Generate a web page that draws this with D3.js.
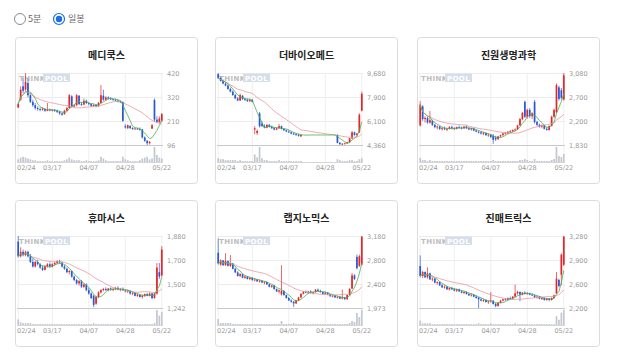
<!DOCTYPE html>
<html><head><meta charset="utf-8">
<script src="https://cdn.jsdelivr.net/npm/d3@7"></script>
<style>body{margin:0;background:#fff}svg{display:block}</style>
</head><body>
<svg id="c" width="618" height="355"></svg>
<script>
const dates = ["02/24","02/25","02/26","02/27","02/28","03/04","03/05","03/06","03/07","03/10",
"03/11","03/12","03/13","03/14","03/17","03/18","03/19","03/20","03/21","03/24",
"03/25","03/26","03/27","03/28","03/31","04/01","04/02","04/03","04/04","04/07",
"04/08","04/09","04/10","04/11","04/14","04/15","04/16","04/17","04/18","04/21",
"04/22","04/23","04/24","04/25","04/28","04/29","04/30","05/02","05/07","05/08",
"05/09","05/12","05/13","05/14","05/15","05/16","05/19","05/20","05/21","05/22"];
const xTicks = ["02/24","03/17","04/07","04/28","05/22"];
const titles = ["메디쿡스","더바이오메드","진원생명과학","휴마시스","랩지노믹스","진매트릭스"];
const yTop = [420,9680,3080,1880,3180,3280];
const yBottom = [96,4360,1830,1242,1973,2200];
const yLabels = [["420","320","210","96"],["9,680","7,900","6,100","4,360"],["3,080","2,700","2,200","1,830"],
["1,880","1,700","1,500","1,242"],["3,180","2,800","2,400","1,973"],["3,280","2,900","2,600","2,200"]];

// 메디쿡스
const open1=[265,300,360,345,375,320,290,275,262,258,255,258,250,255,252,254,250,245,238,235,250,262,315,270,275,318,280,278,295,285,280,272,276,270,285,318,300,310,305,302,300,296,292,290,180,172,182,172,168,170,168,166,130,115,104,170,298,210,200,205];
const close1=[280,345,340,380,320,290,275,262,258,255,260,250,256,252,254,250,245,238,232,250,262,320,270,275,320,280,278,295,285,280,272,276,270,285,320,300,310,305,302,300,296,292,290,205,175,185,172,168,170,168,166,130,115,104,110,185,210,200,215,235];
const high1=[285,360,400,420,395,330,300,285,270,265,266,262,285,260,258,258,255,250,242,255,268,325,320,280,325,320,290,305,300,290,284,280,280,290,366,345,315,315,310,306,304,300,296,292,190,188,185,176,174,172,175,168,135,118,114,190,305,225,225,240];
const low1=[262,295,330,340,310,285,268,255,250,248,250,245,248,248,247,245,240,232,228,232,248,260,265,265,270,275,272,275,280,275,268,268,266,268,282,295,296,300,298,295,292,288,285,200,170,168,168,164,165,164,160,125,110,96,98,168,200,195,195,198];
const vol1=[3,5,6,5,4,3,2,2,1,1,1,1,2,1,1,1,1,1,1,2,3,5,3,2,2,2,1,1,2,1,1,1,1,2,6,4,2,1,1,1,1,1,1,6,3,2,1,1,1,1,2,4,5,6,3,4,17,8,5,4];

// 더바이오메드
const open2=[9600,9300,9100,8900,8750,8500,8300,8050,7800,7650,8000,7750,7700,7600,7700,5500,5250,6700,5950,5750,5650,5850,5700,5600,5500,5600,5750,5550,5450,5350,5300,5200,5150,5100,5000,5100,5100,5100,5100,5100,5100,5100,5100,5100,5100,5100,5100,5100,5100,5100,4520,4420,4450,4480,4560,4850,5300,5100,5300,6900];
const close2=[9300,9100,8900,8750,8500,8300,8050,7800,7650,8050,7750,7700,7600,7700,7550,5600,5400,5750,5750,5650,5850,5700,5600,5500,5600,5750,5550,5450,5350,5300,5200,5150,5100,5050,5100,5100,5100,5100,5100,5100,5100,5100,5100,5100,5100,5100,5100,5100,5100,4520,4420,4450,4480,4560,4850,5300,5100,5200,6600,8150];
const high2=[9680,9400,9200,9000,8850,8600,8400,8150,7900,8150,8050,7850,7800,7750,7750,5750,5500,6800,6100,5900,5900,5900,5800,5700,5650,5900,5800,5600,5500,5450,5350,5300,5250,5200,5150,5100,5100,5100,5100,5100,5100,5100,5100,5100,5100,5100,5100,5100,5100,5150,4580,4500,4520,4600,4900,5400,5350,5250,6700,8300];
const low2=[9250,9050,8850,8700,8450,8250,8000,7750,7600,7600,7700,7600,7550,7550,7500,5150,5100,5650,5700,5600,5600,5650,5550,5450,5450,5550,5500,5400,5300,5250,5150,5100,5050,4980,4950,5100,5100,5100,5100,5100,5100,5100,5100,5100,5100,5100,5100,5100,5100,4480,4380,4360,4400,4430,4520,4800,5050,5000,5250,6850];
const vol2=[4,3,3,2,2,2,2,2,1,2,1,1,1,1,1,8,5,16,4,2,2,1,1,1,1,2,1,1,1,1,1,1,1,1,1,0,0,0,0,0,0,0,0,0,0,0,0,0,0,3,2,1,1,1,2,2,1,1,3,4];

// 진원생명과학
const open3=[2170,2500,2280,2300,2220,2250,2180,2140,2150,2110,2120,2100,2110,2140,2120,2110,2140,2130,2120,2150,2120,2100,2120,2080,2060,2050,2030,2040,2000,2010,1990,1960,1930,1980,2000,2030,2040,2060,2070,2090,2100,2170,2280,2580,2320,2440,2330,2580,2230,2180,2150,2170,2110,2090,2160,2320,2400,2830,2780,2620];
const close3=[2530,2280,2300,2220,2260,2180,2140,2150,2110,2120,2100,2110,2140,2120,2110,2140,2130,2120,2150,2120,2100,2120,2080,2060,2050,2030,2040,2000,2010,1970,1920,1930,1980,2000,2030,2040,2060,2070,2090,2100,2170,2280,2390,2320,2440,2330,2380,2230,2180,2150,2170,2110,2090,2160,2320,2440,2870,2630,2650,3040];
const high3=[2590,2520,2330,2320,2420,2270,2200,2170,2160,2140,2150,2130,2160,2170,2140,2150,2170,2150,2160,2170,2140,2130,2130,2100,2080,2070,2060,2050,2030,2020,2020,1990,1990,2010,2040,2060,2070,2090,2100,2120,2180,2300,2400,2600,2460,2470,2400,2610,2250,2200,2190,2180,2140,2170,2340,2460,2900,2860,2820,3080];
const low3=[2150,2250,2220,2200,2200,2160,2120,2100,2090,2080,2090,2070,2100,2100,2090,2100,2110,2100,2110,2110,2090,2080,2070,2050,2030,2010,2000,1990,1970,1950,1850,1900,1920,1960,1990,2010,2020,2040,2050,2070,2090,2160,2260,2300,2290,2300,2280,2200,2160,2130,2120,2100,2080,2080,2150,2300,2380,2600,2620,2600];
const vol3=[4,2,2,1,2,1,1,1,1,1,1,1,1,1,1,1,1,1,1,1,1,1,1,1,1,1,1,1,1,1,2,1,1,1,1,1,1,1,1,1,1,2,2,3,2,1,1,3,1,1,1,1,1,1,2,3,15,6,5,8];

// 휴마시스
const open4=[1830,1700,1740,1710,1740,1700,1650,1610,1650,1630,1600,1580,1610,1630,1610,1630,1640,1655,1645,1610,1590,1560,1570,1520,1490,1460,1480,1430,1450,1400,1370,1350,1280,1340,1380,1400,1410,1400,1415,1405,1410,1420,1405,1410,1400,1390,1395,1370,1375,1350,1360,1340,1350,1365,1350,1370,1330,1370,1560,1530];
const close4=[1700,1740,1710,1740,1700,1650,1610,1650,1630,1600,1580,1610,1630,1610,1630,1640,1655,1645,1610,1590,1560,1570,1520,1490,1460,1480,1430,1450,1400,1370,1330,1270,1340,1380,1400,1410,1400,1415,1405,1410,1420,1405,1410,1400,1390,1395,1370,1375,1350,1360,1340,1350,1365,1350,1370,1330,1370,1600,1520,1760];
const high4=[1880,1780,1760,1750,1750,1720,1680,1660,1670,1640,1620,1620,1640,1645,1640,1650,1665,1670,1655,1625,1600,1580,1575,1530,1500,1490,1490,1460,1460,1420,1380,1360,1350,1390,1410,1420,1425,1420,1425,1420,1430,1435,1420,1425,1410,1405,1400,1385,1380,1370,1365,1360,1370,1375,1380,1375,1380,1640,1640,1790];
const low4=[1690,1690,1700,1700,1690,1640,1600,1600,1620,1590,1570,1575,1600,1600,1600,1615,1630,1635,1600,1580,1550,1540,1510,1480,1450,1440,1420,1420,1390,1360,1320,1250,1270,1330,1370,1390,1395,1390,1395,1390,1400,1400,1390,1395,1380,1375,1360,1355,1345,1340,1335,1325,1340,1345,1345,1320,1325,1360,1500,1520];
const vol4=[6,3,2,2,2,2,1,1,1,1,1,1,1,1,1,1,1,1,1,1,1,1,1,1,1,1,1,1,1,1,1,2,1,1,1,1,1,1,1,1,1,1,1,1,1,1,1,1,1,1,1,1,1,1,1,1,2,16,10,14];

// 랩지노믹스
const open5=[2900,2700,2770,2690,2760,2680,2720,2630,2570,2510,2540,2480,2500,2460,2480,2440,2450,2420,2430,2400,2410,2370,2330,2350,2290,2250,2200,2260,2190,2140,2100,2080,2050,2100,2150,2210,2240,2230,2250,2230,2240,2280,2260,2240,2210,2230,2200,2170,2180,2150,2160,2130,2150,2120,2190,2300,2520,2830,2680,2700];
const close5=[2720,2770,2690,2760,2680,2720,2630,2570,2510,2540,2480,2500,2460,2480,2440,2450,2420,2430,2400,2410,2370,2330,2350,2290,2250,2270,2260,2190,2140,2100,2080,2050,2100,2150,2210,2240,2230,2250,2230,2240,2280,2260,2240,2210,2230,2200,2170,2180,2150,2160,2130,2150,2120,2190,2290,2520,2460,2640,2840,3170];
const high5=[3140,2790,2780,2890,2770,2860,2730,2650,2590,2560,2550,2520,2510,2490,2490,2470,2460,2450,2440,2420,2420,2380,2360,2360,2300,2280,2690,2270,2200,2160,2120,2090,2110,2160,2220,2260,2270,2260,2270,2250,2290,2300,2280,2250,2240,2240,2210,2190,2190,2170,2170,2280,2160,2200,2310,2560,2540,2870,2870,3180];
const low5=[2700,2680,2680,2680,2670,2660,2620,2560,2500,2490,2470,2460,2450,2440,2430,2420,2410,2400,2390,2370,2360,2320,2310,2280,2240,2220,2180,2180,2130,2090,2060,1990,2040,2090,2140,2200,2220,2210,2220,2200,2230,2250,2230,2200,2200,2190,2160,2150,2140,2130,2120,2120,2110,2110,2180,2290,2440,2620,2660,2690];
const vol5=[6,2,2,2,2,2,1,1,1,1,1,1,1,1,1,1,1,1,1,1,1,1,1,1,1,1,4,1,1,1,1,2,1,1,1,1,1,1,1,1,1,1,1,1,1,1,1,1,1,1,1,1,1,1,2,4,3,12,8,15];

// 진매트릭스
const open6=[2830,2680,2740,2660,2720,2630,2640,2580,2590,2540,2510,2520,2480,2500,2480,2460,2480,2450,2430,2440,2410,2390,2400,2370,2360,2330,2310,2320,2290,2300,2310,2260,2230,2280,2310,2330,2320,2350,2340,2370,2420,2440,2400,2430,2410,2420,2400,2390,2360,2370,2340,2350,2320,2340,2320,2350,2420,2620,2700,2850];
const close6=[2680,2740,2660,2720,2630,2640,2580,2590,2540,2510,2520,2480,2500,2480,2460,2480,2450,2430,2440,2410,2390,2400,2370,2350,2330,2310,2320,2290,2300,2310,2260,2230,2280,2310,2330,2320,2350,2340,2370,2420,2440,2400,2430,2410,2420,2400,2390,2360,2370,2340,2350,2320,2340,2320,2350,2390,2640,2530,3000,3270];
const high6=[2990,2760,2750,2810,2730,2660,2650,2600,2600,2560,2540,2530,2510,2520,2500,2490,2490,2470,2460,2450,2430,2420,2410,2390,2360,2350,2340,2330,2310,2440,2320,2280,2290,2320,2340,2350,2360,2370,2380,2550,2460,2450,2440,2450,2440,2430,2420,2400,2380,2380,2360,2360,2350,2350,2360,2400,2740,2640,3020,3280];
const low6=[2660,2650,2650,2640,2620,2600,2570,2550,2530,2500,2490,2470,2460,2470,2450,2440,2440,2420,2410,2400,2380,2370,2360,2340,2200,2300,2290,2280,2260,2280,2250,2210,2220,2270,2300,2310,2310,2330,2330,2360,2400,2300,2390,2400,2400,2390,2380,2350,2340,2330,2320,2310,2310,2300,2310,2340,2410,2510,2540,2830];
const vol6=[5,2,2,2,2,1,1,1,1,1,1,1,1,1,1,1,1,1,1,1,1,1,1,1,2,1,1,1,1,2,1,1,1,1,1,1,1,1,1,2,1,1,1,1,1,1,1,1,1,1,1,1,1,1,1,1,10,6,14,17];

const panels = [
  {o:open1,c:close1,h:high1,l:low1,v:vol1},
  {o:open2,c:close2,h:high2,l:low2,v:vol2},
  {o:open3,c:close3,h:high3,l:low3,v:vol3},
  {o:open4,c:close4,h:high4,l:low4,v:vol4},
  {o:open5,c:close5,h:high5,l:low5,v:vol5},
  {o:open6,c:close6,h:high6,l:low6,v:vol6}
].map((p,i)=>Object.assign(p,{title:titles[i],top:yTop[i],bottom:yBottom[i],labels:yLabels[i]}));

const UP="#e3262c", DOWN="#2a58d2", MA5C="#4cae4f", MA20C="#e9959e";
const svg = d3.select("#c");

// radio buttons
svg.append("circle").attr("cx",20).attr("cy",19).attr("r",5.5).attr("fill","#fff").attr("stroke","#8c8c8c").attr("stroke-width",1);
svg.append("text").attr("x",28).attr("y",22.3).text("5분").attr("fill","#666").style("font","9px 'Noto Sans CJK KR', sans-serif");
svg.append("circle").attr("cx",59).attr("cy",19).attr("r",5.5).attr("fill","#fff").attr("stroke","#1a6fe3").attr("stroke-width",1.2);
svg.append("circle").attr("cx",59).attr("cy",19).attr("r",3.2).attr("fill","#1a6fe3");
svg.append("text").attr("x",68).attr("y",22.3).text("일봉").attr("fill","#666").style("font","9px 'Noto Sans CJK KR', sans-serif");

const PW=182, PH=146, PL=2, PR=148, PT=36, PB=108, VT=110, VB=125;
const cols=[15,215,417], rows=[37,200];

function ma(arr,n){ return arr.map((_,i)=>d3.mean(arr.slice(Math.max(0,i-n+1),i+1))); }

panels.forEach((p,i)=>{
  const g = svg.append("g").attr("transform",`translate(${cols[i%3]},${rows[Math.floor(i/3)]})`);
  g.append("rect").attr("x",0.5).attr("y",0.5).attr("width",PW).attr("height",PH).attr("rx",3)
    .attr("fill","#fff").attr("stroke","#dcdcdc");
  g.append("text").attr("x",PW/2+0.5).attr("y",21.8).attr("text-anchor","middle").text(p.title)
    .attr("fill","#222").style("font","bold 10px 'Noto Sans CJK KR', sans-serif");

  const x = d3.scaleBand().domain(dates).range([PL,PR]).paddingInner(0.3).paddingOuter(0.15);
  const y = d3.scaleLinear().domain([p.bottom,p.top]).range([PB,PT]);
  const yv = d3.scaleLinear().domain([0,d3.max(p.v)]).range([VB,VT]);
  const cx = d => x(d)+x.bandwidth()/2;
  const gridVals = d3.range(4).map(k=>p.top-k*(p.top-p.bottom)/3);

  // x grid + labels
  const xa = g.append("g").attr("transform",`translate(0,${VB})`)
    .call(d3.axisBottom(x).tickValues(xTicks).tickSize(-(VB-PT)).tickPadding(3));
  xa.select(".domain").remove();
  xa.selectAll("line").attr("stroke","#efefef");
  xa.selectAll("text").attr("fill","#9a9a9a").style("font","6.5px 'DejaVu Sans', sans-serif");
  xa.selectAll("text").filter((d,k)=>k===0).attr("text-anchor","start").attr("x",PL-cx(dates[0]));

  // y grid + labels
  const ya = g.append("g").attr("transform",`translate(${PR},0)`)
    .call(d3.axisRight(y).tickValues(gridVals).tickFormat((d,k)=>p.labels[k]).tickSize(-(PR-PL)).tickPadding(4));
  ya.select(".domain").remove();
  ya.selectAll("line").attr("stroke",(d,k)=>k===3?"#c9c9c9":"#ececec");
  ya.selectAll("text").attr("fill","#9a9a9a").style("font","6.5px 'DejaVu Sans', sans-serif");

  // volume base line
  g.append("line").attr("x1",PL).attr("x2",PR).attr("y1",VB+0.5).attr("y2",VB+0.5).attr("stroke","#d6d6d6");

  // watermark
  const wm = g.append("g").attr("transform","translate(4,37)");
  wm.append("text").attr("x",0).attr("y",6.8).text("THINK").attr("fill","#bdbdbd")
    .style("font","bold 7px 'DejaVu Sans', sans-serif").style("letter-spacing","0.4px");
  wm.append("rect").attr("x",24).attr("y",-0.5).attr("width",27).attr("height",8.5).attr("fill","#d6ddeb");
  wm.append("text").attr("x",37.5).attr("y",6.8).attr("text-anchor","middle").text("POOL").attr("fill","#fff")
    .style("font","bold 7px 'DejaVu Sans', sans-serif").style("letter-spacing","0.4px");

  // volume bars
  g.append("g").selectAll("rect").data(dates).join("rect")
    .attr("x",d=>x(d)).attr("width",x.bandwidth())
    .attr("y",(d,k)=>yv(p.v[k])).attr("height",(d,k)=>VB-yv(p.v[k]))
    .attr("fill","#c3c7d0");

  // candles
  const cg = g.append("g");
  dates.forEach((d,k)=>{
    if(p.h[k]===p.l[k]) return; // trading halt day
    const col = p.c[k]>=p.o[k]?UP:DOWN;
    cg.append("line").attr("x1",cx(d)).attr("x2",cx(d)).attr("y1",y(p.h[k])).attr("y2",y(p.l[k]))
      .attr("stroke",col).attr("stroke-width",0.7);
    const y0=Math.min(y(p.o[k]),y(p.c[k]));
    cg.append("rect").attr("x",x(d)).attr("width",x.bandwidth()).attr("y",y0)
      .attr("height",Math.max(0.8,Math.abs(y(p.o[k])-y(p.c[k])))).attr("fill",col);
  });

  // moving averages
  const line = d3.line().x((d,k)=>cx(dates[k])).y(d=>y(d));
  g.append("path").attr("d",line(ma(p.c,20))).attr("fill","none").attr("stroke",MA20C).attr("stroke-width",0.8);
  g.append("path").attr("d",line(ma(p.c,5))).attr("fill","none").attr("stroke",MA5C).attr("stroke-width",0.8);
});
</script>
</body></html>
